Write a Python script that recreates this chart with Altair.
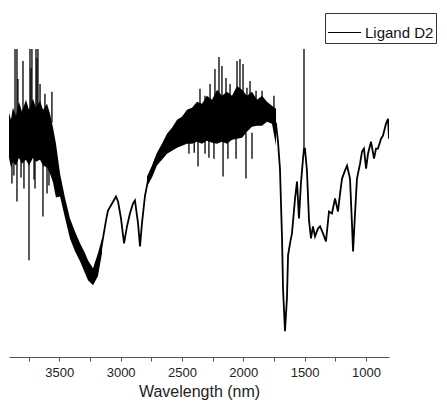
import altair as alt
import pandas as pd

series_name = "Ligand D2"

# main trace (wavenumber, signal in arbitrary units)
trace_wn = [3910, 3886, 3820, 3739, 3657, 3592, 3560, 3535, 3494, 3454, 3413, 3372, 3331,
            3290, 3250, 3225, 3201, 3168, 3144, 3119, 3103, 3070, 3038, 3021, 2997, 2972,
            2948, 2924, 2899, 2883, 2858, 2842, 2826, 2801, 2777, 2761, 2720, 2679, 2638,
            2597, 2557, 2516, 2434, 2353, 2271, 2190, 2108, 2027, 1945, 1864, 1782, 1733,
            1717, 1701, 1684, 1676, 1660, 1644, 1635, 1619, 1603, 1578, 1562, 1546, 1530,
            1513, 1505, 1497, 1481, 1464, 1448, 1432, 1415, 1391, 1374, 1350, 1326, 1301,
            1277, 1252, 1228, 1211, 1195, 1171, 1154, 1130, 1114, 1105, 1089, 1073, 1048,
            1032, 1016, 999, 983, 959, 934, 918, 902, 877, 861, 837, 820, 812]
trace_val = [224, 229, 227, 231, 229, 224, 219, 204, 174, 149, 129, 116, 105,
             94, 84, 79, 83, 101, 119, 137, 147, 154, 161, 156, 139, 114,
             131, 144, 154, 157, 134, 111, 134, 162, 177, 182, 197, 207, 213,
             220, 223, 227, 231, 235, 238, 242, 242, 244, 247, 247, 246, 234,
             216, 189, 119, 69, 26, 59, 102, 114, 124, 159, 176, 139, 174,
             199, 209, 209, 187, 137, 119, 131, 121, 129, 131, 124, 116, 146,
             144, 159, 146, 164, 179, 187, 192, 179, 134, 106, 144, 179, 194,
             206, 209, 189, 204, 216, 199, 209, 209, 219, 222, 234, 239, 219]

# noisy envelope, region A (O-H / N-H side)
band_a_wn = [3910, 3894, 3878, 3853, 3829, 3804, 3772, 3747, 3714, 3690, 3657, 3633, 3600,
             3576, 3551, 3527, 3494, 3454, 3413, 3372, 3331, 3290, 3266, 3225, 3185, 3152]
band_a_lo = [200, 190, 196, 192, 200, 194, 198, 192, 200, 196, 198, 192, 190,
             184, 175, 160, 161, 140, 119, 106, 96, 84, 77, 72, 81, 104]
band_a_hi = [245, 238, 250, 242, 256, 246, 258, 248, 259, 250, 257, 248, 254,
             244, 230, 214, 184, 160, 139, 126, 114, 104, 97, 89, 104, 119]

# noisy envelope, region B (2800-1730)
band_b_wn = [2785, 2744, 2704, 2663, 2622, 2581, 2540, 2500, 2459, 2418, 2377, 2337, 2296,
             2255, 2214, 2174, 2133, 2092, 2051, 2010, 1970, 1929, 1888, 1847, 1807, 1766, 1733]
band_b_lo = [171, 180, 192, 198, 204, 207, 210, 212, 214, 214, 216, 214, 217,
             215, 214, 216, 214, 218, 219, 220, 226, 231, 232, 232, 236, 234, 212]
band_b_hi = [181, 192, 205, 214, 224, 230, 238, 241, 248, 250, 256, 254, 262,
             258, 268, 262, 266, 262, 272, 268, 262, 266, 258, 262, 256, 252, 249]

# isolated noise spikes (wavenumber, base, tip)
spike_wn = [3861, 3845, 3837, 3796, 3739, 3731, 3723, 3690, 3682, 3674, 3657, 3617, 3560,
            3886, 3870, 3845, 3812, 3788, 3747, 3706, 3698, 3633, 3600, 3584,
            2353, 2312, 2271, 2231, 2198, 2174, 2141, 2108, 2051, 2027, 2002, 1970, 1945,
            1896, 1847, 1750,
            2443, 2369, 2312, 2239, 2165, 2125, 2059, 1978, 1929, 2400, 2280,
            1505]
spike_base = [240, 240, 240, 240, 240, 240, 240, 240, 240, 240, 240, 240, 235,
              215, 215, 215, 215, 215, 215, 215, 215, 215, 215, 215,
              245, 245, 245, 245, 245, 245, 245, 245, 245, 245, 245, 245, 245,
              245, 245, 245,
              225, 225, 225, 225, 225, 225, 225, 225, 225, 225, 225,
              209]
spike_tip = [309, 309, 279, 297, 309, 290, 309, 309, 300, 309, 274, 264, 266,
             174, 182, 156, 180, 169, 97, 178, 169, 141, 164, 172,
             269, 262, 274, 289, 301, 292, 280, 274, 297, 299, 294, 270, 277,
             267, 267, 262,
             204, 191, 204, 199, 181, 199, 199, 179, 199, 205, 200,
             309]

trace = pd.DataFrame({"wn": trace_wn, "val": trace_val, "series": series_name})
band = pd.DataFrame({
    "wn": band_a_wn + band_b_wn,
    "lo": band_a_lo + band_b_lo,
    "hi": band_a_hi + band_b_hi,
    "seg": ["A"] * len(band_a_wn) + ["B"] * len(band_b_wn),
})
spikes = pd.DataFrame({"wn": spike_wn, "base": spike_base, "tip": spike_tip})

FONT = "Liberation Sans"
tick_values = [3750, 3500, 3250, 3000, 2750, 2500, 2250, 2000, 1750, 1500, 1250, 1000]

x_scale = alt.Scale(domain=[812, 3910], reverse=True, nice=False, zero=False)
y_scale = alt.Scale(domain=[0, 309], nice=False, zero=False)
x_axis = alt.Axis(
    title="Wavelength (nm)", values=tick_values, format="d",
    labelExpr="datum.value % 500 === 0 ? datum.label : ''",
    grid=False, tickSize=4, domainColor="#555555", tickColor="#555555",
    domainWidth=1.2, tickWidth=1,
    labelFont=FONT, labelFontSize=13, labelColor="#222222", labelPadding=5,
    titleFont=FONT, titleFontSize=16, titleFontWeight="normal", titleColor="#222222",
    titlePadding=4,
)

def xenc():
    return alt.X("wn:Q", scale=x_scale, axis=x_axis)

band_layer = alt.Chart(band).mark_area(color="black", opacity=1, clip=True).encode(
    x=xenc(),
    y=alt.Y("hi:Q", scale=y_scale, axis=None),
    y2="lo:Q",
    detail="seg:N",
)

spike_layer = alt.Chart(spikes).mark_rule(color="black", strokeWidth=1.3, clip=True).encode(
    x=xenc(),
    y=alt.Y("base:Q", scale=y_scale, axis=None),
    y2="tip:Q",
)

line_layer = alt.Chart(trace).mark_line(strokeWidth=1.8, clip=True).encode(
    x=xenc(),
    y=alt.Y("val:Q", scale=y_scale, axis=None),
    color=alt.Color(
        "series:N",
        scale=alt.Scale(range=["black"]),
        legend=alt.Legend(
            title=None, orient="none", legendX=316, legendY=-36,
            symbolType="stroke", symbolSize=1100, symbolStrokeWidth=1,
            strokeColor="#333333", fillColor="white", padding=2,
            labelFont=FONT, labelFontSize=15, labelColor="#111111", labelOffset=3,
        ),
    ),
)

chart = alt.layer(band_layer, spike_layer, line_layer).properties(
    width=380, height=308,
    autosize=alt.AutoSizeParams(type="none"),
    padding={"left": 1, "top": 41, "right": 50, "bottom": 44},
).configure_view(stroke=None)

chart.save("out.html", embed_options={"renderer": "svg", "actions": False})
